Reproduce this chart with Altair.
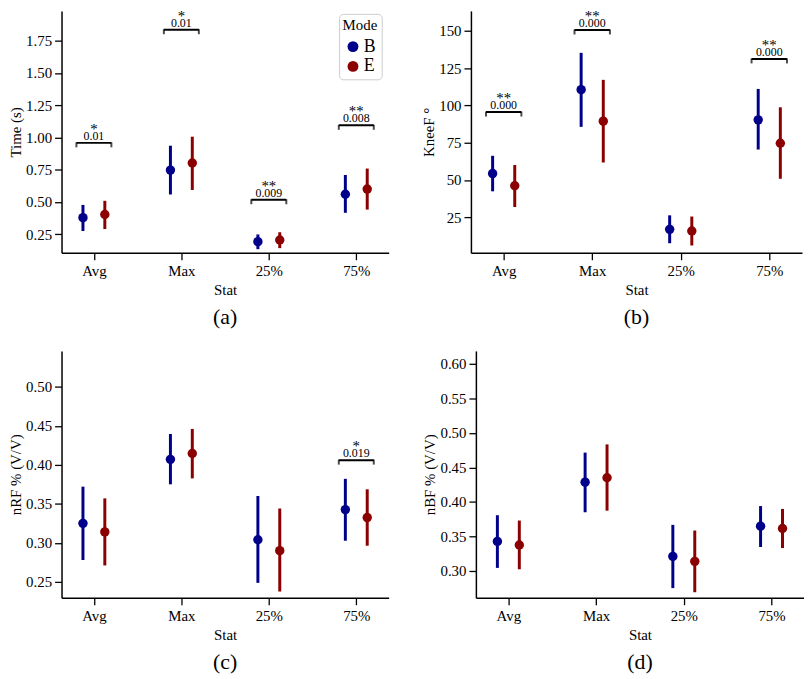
import json
import altair as alt
import pandas as pd

stats = ["Avg", "Max", "25%", "75%"]
modes = ["B", "E"]
colors = ["#00008b", "#8b0000"]

# (a) Time (s)
time_mean_B = [0.378, 0.747, 0.192, 0.560]
time_mean_E = [0.403, 0.802, 0.205, 0.600]
time_lo_B = [0.275, 0.558, 0.134, 0.416]
time_lo_E = [0.290, 0.593, 0.142, 0.441]
time_hi_B = [0.477, 0.936, 0.248, 0.709]
time_hi_E = [0.509, 1.006, 0.265, 0.759]
time_sig_stat = ["Avg", "Max", "25%", "75%"]
time_sig_y = [0.958, 1.835, 0.517, 1.094]
time_sig_p = ["0.01", "0.01", "0.009", "0.008"]
time_sig_star = ["*", "*", "**", "**"]

# (b) KneeF
knee_mean_B = [54.3, 110.5, 16.9, 90.3]
knee_mean_E = [46.1, 89.4, 15.8, 74.6]
knee_lo_B = [42.4, 85.6, 7.6, 70.4]
knee_lo_E = [31.9, 61.7, 6.1, 50.8]
knee_hi_B = [66.2, 135.2, 26.3, 111.0]
knee_hi_E = [60.0, 117.1, 25.5, 98.7]
knee_sig_stat = ["Avg", "Max", "75%"]
knee_sig_y = [95.5, 150.5, 131.1]
knee_sig_p = ["0.000", "0.000", "0.000"]
knee_sig_star = ["**", "**", "**"]

# (c) nRF
nrf_mean_B = [0.325, 0.407, 0.304, 0.3426]
nrf_mean_E = [0.314, 0.4145, 0.290, 0.3324]
nrf_lo_B = [0.278, 0.375, 0.2487, 0.3027]
nrf_lo_E = [0.271, 0.3826, 0.2376, 0.2963]
nrf_hi_B = [0.372, 0.4395, 0.360, 0.382]
nrf_hi_E = [0.357, 0.446, 0.344, 0.3686]
nrf_sig_stat = ["75%"]
nrf_sig_y = [0.406]
nrf_sig_p = ["0.019"]
nrf_sig_star = ["*"]

# (d) nBF
nbf_mean_B = [0.3427, 0.4287, 0.321, 0.3648]
nbf_mean_E = [0.3375, 0.435, 0.3138, 0.3614]
nbf_lo_B = [0.3043, 0.385, 0.275, 0.3346]
nbf_lo_E = [0.3023, 0.3873, 0.269, 0.3331]
nbf_hi_B = [0.3807, 0.4715, 0.3667, 0.394]
nbf_hi_E = [0.373, 0.4834, 0.3585, 0.3898]

FONT = "Liberation Serif"
DODGE = {"B": -0.125, "E": 0.125}
label_expr = json.dumps(stats) + "[datum.value]"


def panel(ytitle, means, los, his, sig, ydomain, yticks, yfmt, width, height,
          caption, legend=False):
    rows = []
    for m in modes:
        for i, s in enumerate(stats):
            rows.append({"Stat": s, "Mode": m, "pos": i + DODGE[m],
                         "mean": means[m][i], "lo": los[m][i], "hi": his[m][i]})
    df = pd.DataFrame(rows)

    xenc = alt.X("pos:Q", scale=alt.Scale(domain=[-0.37, 3.37], nice=False, zero=False),
                 axis=alt.Axis(values=[0, 1, 2, 3], labelExpr=label_expr, title="Stat",
                               grid=False))
    yscale = alt.Scale(domain=ydomain, nice=False, zero=False)
    yaxis = alt.Axis(values=yticks, format=yfmt, title=ytitle, grid=False)
    if legend:
        leg = alt.Legend(title="Mode", orient="none", legendX=280, legendY=3,
                         symbolType="circle", symbolSize=120, symbolStrokeWidth=0,
                         titleFont=FONT, titleFontSize=15, titleFontWeight="normal",
                         titleColor="black", titleAnchor="middle", labelFont=FONT,
                         labelFontSize=18, labelColor="black",
                         fillColor="white", strokeColor="#cccccc", cornerRadius=4,
                         padding=4, rowPadding=2, labelOffset=2)
    else:
        leg = None
    cenc = alt.Color("Mode:N", scale=alt.Scale(domain=modes, range=colors), legend=leg)

    base = alt.Chart(df)
    bars = base.mark_rule(strokeWidth=3).encode(
        x=xenc, y=alt.Y("lo:Q", scale=yscale, axis=yaxis), y2="hi:Q", color=cenc)
    pts = base.mark_circle(size=90, opacity=1).encode(
        x="pos:Q", y="mean:Q", color=cenc)
    layers = [bars, pts]

    if sig is not None:
        sstat, sy, sp, sstar = sig
        srows = []
        for s, yv, p, st in zip(sstat, sy, sp, sstar):
            i = stats.index(s)
            srows.append({"xc": i, "x1": i - 0.2, "x2": i + 0.2, "y": yv, "p": p, "star": st})
        sdf = pd.DataFrame(srows)
        sb = alt.Chart(sdf)
        layers.append(sb.mark_rule(strokeWidth=2, color="black").encode(
            x="x1:Q", x2="x2:Q", y="y:Q"))
        for col in ["x1", "x2"]:
            layers.append(sb.mark_tick(orient="vertical", size=5, thickness=2, yOffset=2,
                                       color="black").encode(
                x=f"{col}:Q", y="y:Q"))
        layers.append(sb.mark_text(font=FONT, fontSize=12, baseline="alphabetic", dy=-3,
                                   fill="black", color="black").encode(
            x="xc:Q", y="y:Q", text="p:N"))
        layers.append(sb.mark_text(font=FONT, fontSize=15, baseline="alphabetic", dy=-9,
                                   fill="black", color="black").encode(
            x="xc:Q", y="y:Q", text="star:N"))

    return alt.layer(*layers).properties(
        width=width, height=height,
        title=alt.TitleParams(caption, orient="bottom", font=FONT, fontSize=22,
                              fontWeight="normal", color="black", offset=10))


pa = panel("Time (s)",
           {"B": time_mean_B, "E": time_mean_E}, {"B": time_lo_B, "E": time_lo_E},
           {"B": time_hi_B, "E": time_hi_E},
           (time_sig_stat, time_sig_y, time_sig_p, time_sig_star),
           [0.106, 1.981], [0.25, 0.5, 0.75, 1.0, 1.25, 1.5, 1.75], ".2f",
           330, 244, "(a)", legend=True)
pb = panel("KneeF °",
           {"B": knee_mean_B, "E": knee_mean_E}, {"B": knee_lo_B, "E": knee_lo_E},
           {"B": knee_hi_B, "E": knee_hi_E},
           (knee_sig_stat, knee_sig_y, knee_sig_p, knee_sig_star),
           [1.2, 163.3], [25, 50, 75, 100, 125, 150], "d",
           334, 244, "(b)")
pc = panel("nRF % (V/V)",
           {"B": nrf_mean_B, "E": nrf_mean_E}, {"B": nrf_lo_B, "E": nrf_lo_E},
           {"B": nrf_hi_B, "E": nrf_hi_E},
           (nrf_sig_stat, nrf_sig_y, nrf_sig_p, nrf_sig_star),
           [0.2296, 0.546], [0.25, 0.30, 0.35, 0.40, 0.45, 0.50], ".2f",
           330, 249, "(c)")
pd_ = panel("nBF % (V/V)",
            {"B": nbf_mean_B, "E": nbf_mean_E}, {"B": nbf_lo_B, "E": nbf_lo_E},
            {"B": nbf_hi_B, "E": nbf_hi_E},
            None,
            [0.261, 0.619], [0.30, 0.35, 0.40, 0.45, 0.50, 0.55, 0.60], ".2f",
            331, 249, "(d)")

row1 = alt.hconcat(pa, pb, spacing=33).resolve_scale(color="independent").resolve_legend(color="independent")
row2 = alt.hconcat(pc, pd_, spacing=34).resolve_scale(color="independent").resolve_legend(color="independent")

chart = alt.vconcat(row1, row2, spacing=23).resolve_scale(
    color="independent").resolve_legend(color="independent").properties(
    padding={"left": 0, "top": -3, "right": 0, "bottom": 0}, background="white"
).configure_view(stroke=None).configure_axis(
    labelFont=FONT, labelFontSize=15, labelColor="black", labelPadding=4,
    titleFont=FONT, titleFontSize=15, titleFontWeight="normal", titleColor="black",
    titlePadding=4, domainColor="black", domainWidth=1.5, tickColor="black",
    tickSize=7, tickWidth=1.3, grid=False
).configure_axisY(labelPadding=3, titlePadding=2)

chart.save("out.html", embed_options={"renderer": "svg", "actions": False})
